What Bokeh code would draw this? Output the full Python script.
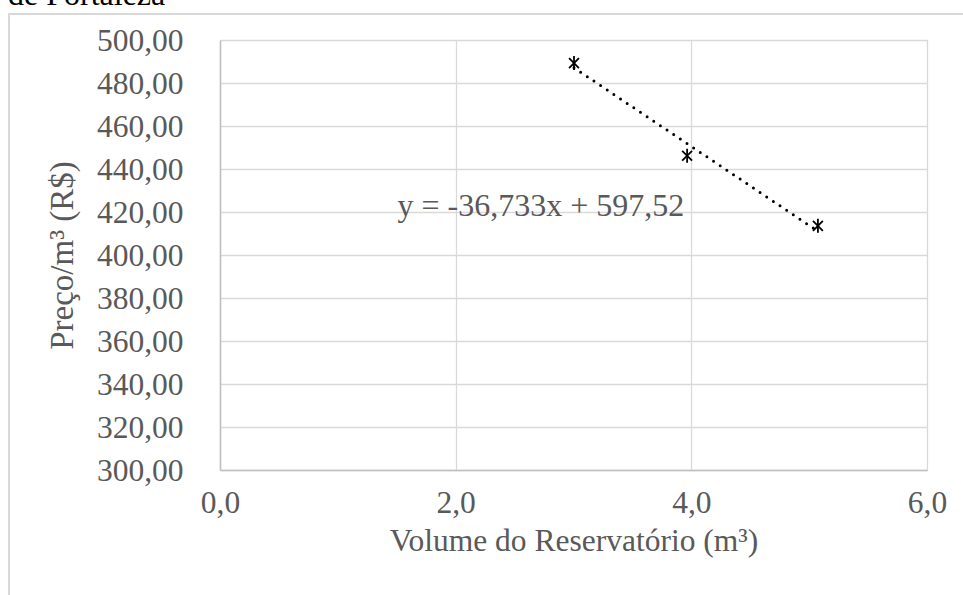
import numpy as np
from bokeh.plotting import figure
from bokeh.layouts import column, row
from bokeh.models import (Range1d, FixedTicker, CustomJSTickFormatter, Label, Div)
from bokeh.embed import file_html
from bokeh.resources import INLINE

# ---- data ----
volume = [3.00, 3.96, 5.07]
preco = [489.5, 446.4, 413.8]
slope = -36.733
intercept = 597.52
eq_text = "y = -36,733x + 597,52"
x_ticks = [0, 2, 4, 6]
y_ticks = [300, 320, 340, 360, 380, 400, 420, 440, 460, 480, 500]
x_title = "Volume do Reservatório (m³)"
y_title = "Preço/m³ (R$)"
top_text = "de Fortaleza"

FONT = "Liberation Serif"
GRAY = "#595959"
GRID = "#d9d9d9"
FS = "31.5px"

W, H = 963, 595
BORDER_X, BORDER_Y, BW = 8, 13, 2          # outer chart border (left / top)
FIG_X, FIG_Y = BORDER_X + BW, BORDER_Y + BW
FRAME_L, FRAME_R, FRAME_T, FRAME_B = 220, 927, 40, 470
X0, X1 = 0, 6
Y0, Y1 = 300, 500


def dx(px):
    return X0 + (px - FRAME_L) * (X1 - X0) / (FRAME_R - FRAME_L)


def dy(py):
    return Y0 + (FRAME_B - py) * (Y1 - Y0) / (FRAME_B - FRAME_T)


p = figure(width=W - FIG_X, height=H - FIG_Y, output_backend="svg", toolbar_location=None,
           x_range=Range1d(X0, X1), y_range=Range1d(Y0, Y1),
           min_border_left=FRAME_L - FIG_X, min_border_right=W - FRAME_R,
           min_border_top=FRAME_T - FIG_Y, min_border_bottom=H - FRAME_B, margin=0)
p.background_fill_color = "white"
p.border_fill_color = "white"
p.outline_line_color = GRID
p.outline_line_width = 1.3

p.xaxis.ticker = FixedTicker(ticks=x_ticks)
p.yaxis.ticker = FixedTicker(ticks=y_ticks)
p.xgrid.ticker = FixedTicker(ticks=x_ticks)
p.ygrid.ticker = FixedTicker(ticks=y_ticks)
p.xaxis.formatter = CustomJSTickFormatter(code="return tick.toFixed(1).replace('.', ',');")
p.yaxis.formatter = CustomJSTickFormatter(code="return tick.toFixed(2).replace('.', ',');")

for g in (p.xgrid, p.ygrid):
    g.grid_line_color = GRID
    g.grid_line_width = 1.3

for ax in (p.xaxis, p.yaxis):
    ax.axis_line_color = "#bfbfbf"
    ax.axis_line_width = 1.5
    ax.major_tick_line_color = None
    ax.minor_tick_line_color = None
    ax.major_tick_out = 0
    ax.major_tick_in = 0
    ax.minor_tick_out = 0
    ax.minor_tick_in = 0
    ax.major_label_text_font = FONT
    ax.major_label_text_font_size = FS
    ax.major_label_text_color = GRAY
    ax.axis_label_text_font = FONT
    ax.axis_label_text_font_size = FS
    ax.axis_label_text_font_style = "normal"
    ax.axis_label_text_color = GRAY

p.xaxis.axis_label = x_title
p.yaxis.axis_label = y_title
p.yaxis.axis_label_text_font_size = "33px"
p.yaxis.major_label_standoff = 37
p.xaxis.major_label_standoff = 21
p.yaxis.axis_label_standoff = 14
p.xaxis.axis_label_standoff = 7

# trendline
tx = np.array([min(volume), max(volume)])
ty = slope * tx + intercept
p.line(tx, ty, line_color="black", line_width=3, line_dash="0 8", line_cap="round")

# markers (x + vertical bar)
p.scatter(volume, preco, marker="x", size=14, line_color="black", line_width=1.8)
p.scatter(volume, preco, marker="dash", angle=np.pi / 2, size=14,
          line_color="black", line_width=1.8)

# equation label
p.add_layout(Label(x=dx(397), y=dy(204), text=eq_text, text_font=FONT,
                   text_font_size="32px", text_color=GRAY,
                   text_baseline="middle", text_align="left"))

# page pieces around the chart: clipped text above, light-gray chart border
top_div = Div(
    text=("<div style=\"position:relative; top:-22px; left:8px; "
          "font-family:'Liberation Serif'; font-size:32px; line-height:1; "
          "white-space:nowrap; color:black;\">" + top_text + "</div>"),
    width=W, height=BORDER_Y, margin=0)
left_pad = Div(text="", width=BORDER_X, height=H - BORDER_Y, margin=0)
vline = Div(text="", width=BW, height=H - BORDER_Y, margin=0,
            styles={"background-color": GRID})
hline = Div(text="", width=W - FIG_X, height=BW, margin=0,
            styles={"background-color": GRID})

layout = column(
    top_div,
    row(left_pad, vline, column(hline, p, spacing=0, margin=0), spacing=0, margin=0),
    spacing=0, margin=0)

open("out.html", "w").write(file_html(layout, INLINE))
